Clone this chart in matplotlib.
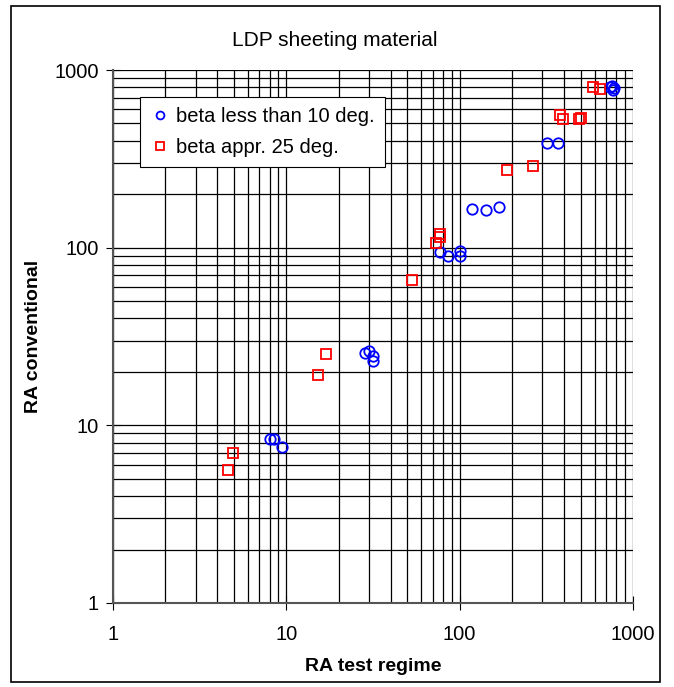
import numpy as np
import matplotlib.pyplot as plt
from matplotlib.patches import Rectangle

plt.rcParams['font.family'] = ['Liberation Sans', 'DejaVu Sans']

# beta less than 10 deg.
blue_x = [8.0, 8.5, 9.4, 28.5, 30.0, 31.8, 31.8, 77, 86, 100, 100, 118, 142, 169,
          319, 370, 740, 760, 770, 778]
blue_y = [8.4, 8.4, 7.6, 25.6, 26.3, 24.5, 23.1, 95, 90, 96, 90, 166, 162, 169,
          388, 388, 800, 812, 770, 790]

# beta appr. 25 deg.
red_x = [4.6, 4.9, 15.2, 16.9, 53, 73, 77, 77, 188, 265, 379, 395, 490, 500, 588, 646]
red_y = [5.6, 7.0, 19.2, 25.1, 66, 106, 115, 120, 273, 288, 557, 529, 530, 535, 801, 781]

fig = plt.figure(figsize=(6.74, 6.87), dpi=100)
ax = fig.add_axes([113 / 674, 1 - 603 / 687, 520 / 674, 533 / 687])

ax.plot(blue_x, blue_y, 'o', mfc='none', mec='#0000ff', ms=7.5, mew=1.3,
        label='beta less than 10 deg.', zorder=3)
ax.plot(red_x, red_y, 's', mfc='none', mec='#ff0000', ms=7.5, mew=1.3,
        label='beta appr. 25 deg.', zorder=3)

ax.set_xscale('log')
ax.set_yscale('log')
ax.set_xlim(1, 1000)
ax.set_ylim(1, 1000)
ax.set_xticks([1, 10, 100, 1000])
ax.set_xticklabels(['1', '10', '100', '1000'])
ax.set_yticks([1, 10, 100, 1000])
ax.set_yticklabels(['1', '10', '100', '1000'])
ax.grid(True, which='both', color='black', linewidth=0.9)
ax.tick_params(which='major', direction='inout', length=10, labelsize=14.5)
ax.tick_params(axis='x', pad=11)
ax.tick_params(axis='y', pad=5)
ax.tick_params(which='minor', length=0)

for side in ['top', 'right']:
    ax.spines[side].set_visible(False)
for side in ['left', 'bottom']:
    ax.spines[side].set_color('#555555')
    ax.spines[side].set_linewidth(1.5)

ax.set_xlabel('RA test regime', fontsize=14, fontweight='bold', labelpad=10)
ax.set_ylabel('RA conventional', fontsize=14, fontweight='bold', labelpad=9)
fig.text(335 / 674, 1 - 40 / 687, 'LDP sheeting material', fontsize=15,
         ha='center', va='center')

leg = ax.legend(loc='upper left', bbox_to_anchor=(27 / 520, 1 - 27 / 533),
                fontsize=14.5, frameon=True, fancybox=False, framealpha=1,
                edgecolor='black', handletextpad=0.3, borderpad=0.5,
                labelspacing=0.6, handlelength=1.0, markerscale=0.75,
                borderaxespad=0)
leg.get_frame().set_linewidth(0.8)

fig.patches.append(Rectangle((11 / 674, 1 - 682 / 687), 649 / 674, 676 / 687,
                             transform=fig.transFigure, fill=False,
                             edgecolor='black', linewidth=1.2))

fig.savefig('out.png', dpi=100)
